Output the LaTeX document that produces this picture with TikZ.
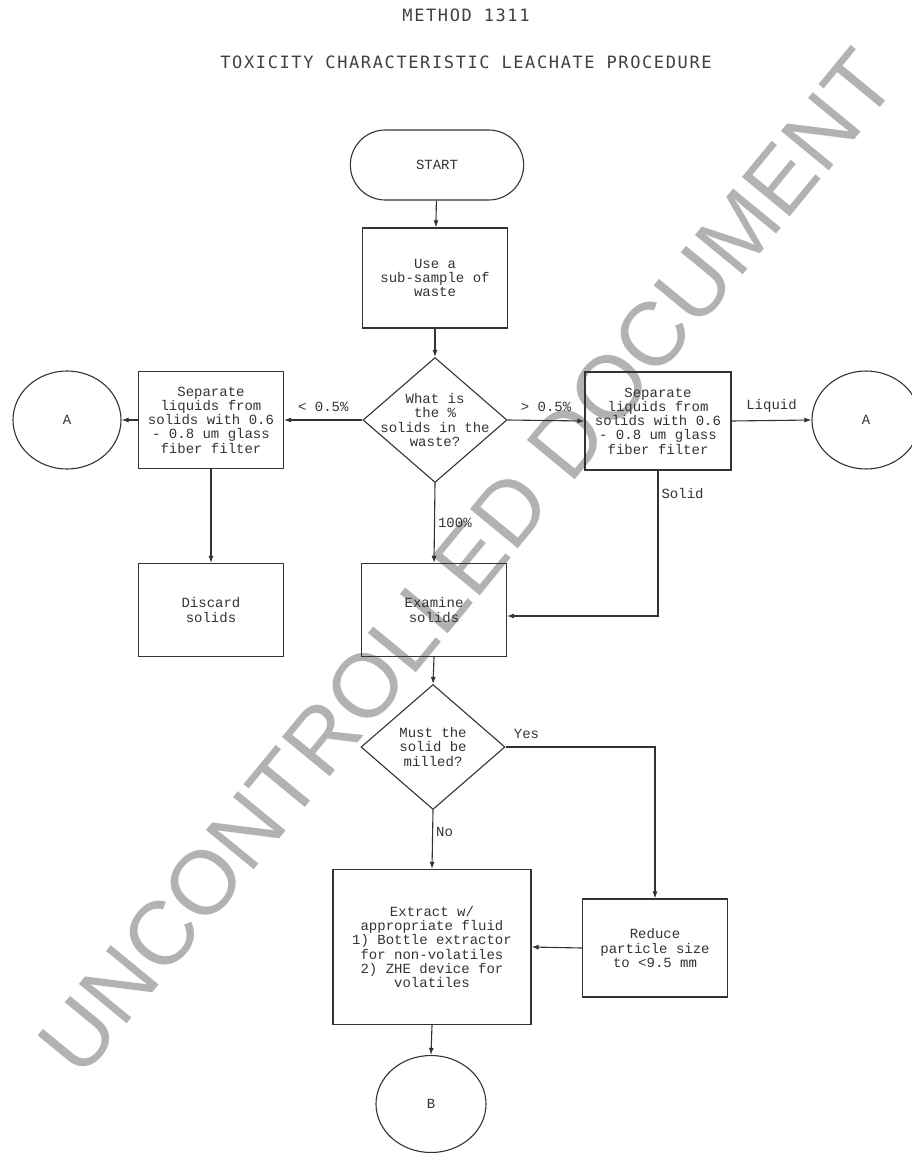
\documentclass[tikz,border=0pt]{standalone}
\usepackage{fontspec}
\setmonofont{Liberation Mono}
\newfontfamily\headfont{DejaVu Sans Mono}[LetterSpace=9.5]
\newfontfamily\stampfont{Liberation Sans}
\usetikzlibrary{arrows.meta,positioning,shapes.geometric,shapes.misc}

\begin{document}
\begin{tikzpicture}[x=1pt, y=-1pt,
  ink/.style={draw=black!80, line width=1.1pt},
  flow/.style={ink, -{Latex[length=7pt,width=5pt]}},
  boxtext/.style={font=\ttfamily\fontsize{14}{14.3}\selectfont, text=black!80, align=center},
  process/.style={ink, boxtext, rectangle, minimum width=145pt, minimum height=97pt, inner sep=2pt},
  decision/.style={ink, diamond, minimum width=144pt, minimum height=125pt, inner sep=0pt},
  terminal/.style={ink, boxtext, rounded rectangle, minimum width=180pt, minimum height=70pt},
  connector/.style={ink, boxtext, ellipse, minimum width=108pt, minimum height=98pt},
  elabel/.style={boxtext, inner sep=3pt},
  heading/.style={font=\headfont\fontsize{17}{17}\selectfont, text=black!75}]
  \useasboundingbox (0,0) rectangle (911,1153);

  % Watermark
  \node[font=\stampfont\fontsize{90}{90}\selectfont, text=black!30, rotate=50.6] (stamp) at (467,562) {UNCONTROLLED DOCUMENT};

  % Title
  \node[heading] (title) at (466,15) {METHOD 1311};
  \node[heading] (subtitle) at (466,62) {TOXICITY CHARACTERISTIC LEACHATE PROCEDURE};

  % Main column
  \node[terminal] (start) at (437,165) {START};
  \node[process, minimum height=100pt] (sample) at (435,278) {Use a\\sub-sample of\\waste};
  \node[decision] (q1) at (435,420) {};
  \node[boxtext] (q1text) at (q1) {What is\\the \%\\solids in the\\waste?};
  \node[process, minimum height=93pt] (exam) at (434,610) {Examine\\solids};
  \node[decision] (q2) at (433,747) {};
  \node[boxtext] (q2text) at (q2) {Must the\\solid be\\milled?};
  \node[process, minimum width=198pt, minimum height=155pt] (extract) at (432,947) {Extract w/\\appropriate fluid\\1) Bottle extractor\\for non-volatiles\\2) ZHE device for\\volatiles};
  \node[connector, minimum width=110pt, minimum height=97pt] (endB) at (431,1104) {B};

  % Left branch
  \node[process] (lsep) at (211,420) {Separate\\liquids from\\solids with 0.6\\- 0.8 um glass\\fiber filter};
  \node[connector] (lA) at (67,420) {A};
  \node[process, minimum height=93pt] (discard) at (211,610) {Discard\\solids};

  % Right branch
  \node[process, minimum width=146pt, minimum height=98pt] (rsep) at (658,421) {Separate\\liquids from\\solids with 0.6\\- 0.8 um glass\\fiber filter};
  \node[connector] (rA) at (866,420) {A};
  \node[process, minimum height=98pt] (reduce) at (655,948) {Reduce\\particle size\\to <9.5 mm};

  % Connectors
  \draw[flow] (start) -- (sample);
  \draw[flow] (sample) -- (q1);
  \draw[flow] (q1.west) -- node[elabel, above=5pt] {< 0.5\%} (lsep.east);
  \draw[flow] (lsep.west) -- (lA.east);
  \draw[flow] (lsep.south) -- (discard.north);
  \draw[flow] (q1.east) -- node[elabel, above=5pt] {> 0.5\%} (rsep.west);
  \draw[flow] (rsep.east) -- node[elabel, above=5pt] {Liquid} (rA.west);
  \draw[flow] (rsep.south) |- node[elabel, right, pos=0.08] {Solid} ([yshift=-6pt]exam.east);
  \draw[flow] (q1.south) -- node[elabel, right] {100\%} (exam.north);
  \draw[flow] (exam.south) -- (q2.north);
  \draw[flow] (q2.east) -| node[elabel, above=5pt, pos=0.07] {Yes} (reduce.north);
  \draw[flow] (q2.south) -- node[elabel, right, pos=0.38] {No} (extract.north);
  \draw[flow] (reduce.west) -- (extract.east);
  \draw[flow] (extract.south) -- (endB.north);
\end{tikzpicture}
\end{document}
